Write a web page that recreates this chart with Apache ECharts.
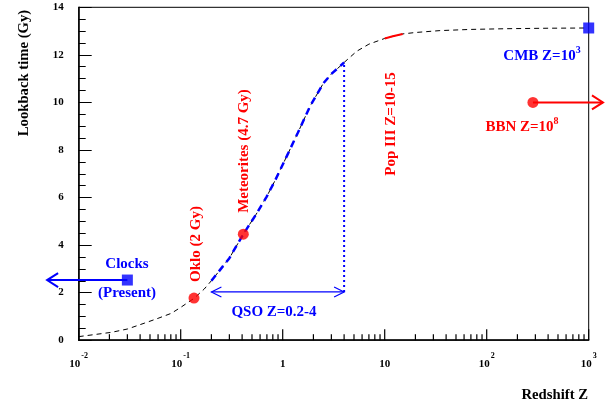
<!DOCTYPE html>
<html><head><meta charset="utf-8">
<script src="https://cdn.jsdelivr.net/npm/echarts@6/dist/echarts.min.js"></script>
<style>html,body{margin:0;padding:0;background:#fff}#c{width:611px;height:408px}</style>
</head><body><div id="c"></div>
<script>
// ---- data ----
const curveZ = [0.01,0.0209,0.03,0.0443,0.06,0.0809,0.1,0.135,0.17,0.2,0.3,0.411,0.55,0.697,0.85,1.094,1.4,1.85,2.5,3.0,3.65,4,5.31,7,10,12,15,20,34.8,70,157,400,1000];
const curveT = [0.15,0.33,0.47,0.72,0.92,1.13,1.38,1.76,2.15,2.50,3.45,4.46,5.3,6.04,6.75,7.73,8.7,9.83,10.8,11.2,11.52,11.68,12.15,12.45,12.69,12.78,12.88,12.94,13.02,13.07,13.1,13.12,13.13];
const qsoRange = [0.2, 4];
const qsoLevel = 2.03;
const popIIIRange = [10, 15];
const okloPt = [0.135, 1.77];
const meteoritesPt = [0.411, 4.46];
const clocksPt = [0.03, 2.53];
const clocksArrowEndZ = 0.0049;
const cmbPt = [1000, 13.13];
const bbnPt = [284, 10.0];
const bbnArrowEndZ = 1380;
const xDecades = [-2,-1,0,1,2,3];
const minorMultipliers = [2,3,4,5,6,7,8,9];

const RED = '#ff0000', BLUE = '#0000ff';
const FONT = 'Liberation Serif';

const curve = curveZ.map((z,i)=>[z,curveT[i]]);
const qsoCurve = curve.filter(p=>p[0]>=qsoRange[0] && p[0]<=qsoRange[1]);
const popCurve = curve.filter(p=>p[0]>=popIIIRange[0] && p[0]<=popIIIRange[1]);
const qsoTopT = curveT[curveZ.indexOf(qsoRange[1])];
// tick list: [z, length]
const xTickData = [];
xDecades.forEach((e,i)=>{
  xTickData.push([Math.pow(10,e), 11]);
  if (i < xDecades.length-1) minorMultipliers.forEach(m=>xTickData.push([m*Math.pow(10,e), 6]));
});

const chart = echarts.init(document.getElementById('c'), null, {renderer:'canvas'});
const option = {
  animation:false,
  backgroundColor:'#fff',
  grid:{left:78.7, right:22.3, top:7.3, bottom:67.8, show:true, borderColor:'#000', borderWidth:1, backgroundColor:'transparent'},
  xAxis:{type:'log', logBase:10, min:0.01, max:1000,
    axisLine:{show:true, onZero:false, lineStyle:{color:'#000', width:1.5}},
    axisTick:{show:false},
    minorTick:{show:false}, splitLine:{show:false},
    axisLabel:{margin:12, color:'#000', showMinLabel:true, showMaxLabel:true,
      formatter:v=>{const e=Math.round(Math.log10(v)); if(e===0) return '{b|1}'; if(e===1) return '{b|10}'; return '{b|10}{e|'+e+'}';},
      rich:{b:{fontFamily:FONT, fontWeight:'bold', fontSize:11, lineHeight:24, color:'#000'},
            e:{fontFamily:FONT, fontWeight:'bold', fontSize:8, lineHeight:8, verticalAlign:'top', color:'#000', padding:[0,0,0,1]}}}
  },
  yAxis:{type:'value', min:0, max:14, interval:2,
    axisLine:{show:true, lineStyle:{color:'#000', width:1.5}},
    axisTick:{show:true, inside:true, length:13, lineStyle:{color:'#000', width:1}},
    minorTick:{show:true, splitNumber:4, length:7, lineStyle:{color:'#000', width:1}},
    splitLine:{show:false},
    axisLabel:{margin:15, color:'#000', fontFamily:FONT, fontWeight:'bold', fontSize:11}
  },
  series:[
    {type:'custom', data:xTickData, clip:false,
      renderItem:(params, api)=>{
        const p = api.coord([api.value(0), 0]);
        return {type:'line', shape:{x1:p[0], y1:p[1], x2:p[0], y2:p[1]-api.value(1)}, style:{stroke:'#000', lineWidth:1.2}};
      }},
    {type:'line', data:curve, showSymbol:false, lineStyle:{color:'#000', width:1, type:[5,4]}, silent:true, z:2},
    {type:'line', data:qsoCurve, showSymbol:false, lineStyle:{color:BLUE, width:2.5, type:[7,5]}, silent:true, z:3},
    {type:'line', data:popCurve, showSymbol:false, lineStyle:{color:RED, width:2}, silent:true, z:3},
    {type:'line', data:[[qsoRange[1],qsoLevel],[qsoRange[1],qsoTopT]], showSymbol:false, lineStyle:{color:BLUE, width:2, type:[2,3]}, silent:true, z:3},
    {type:'line', data:[[qsoRange[0],qsoLevel],[qsoRange[1],qsoLevel]], showSymbol:false, lineStyle:{color:BLUE, width:1.2}, silent:true, z:3},
    {type:'scatter', data:[okloPt, meteoritesPt, bbnPt], symbol:'circle', symbolSize:11, itemStyle:{color:RED}, silent:true, z:5},
    {type:'scatter', data:[clocksPt, cmbPt], symbol:'rect', symbolSize:11, clip:false, itemStyle:{color:BLUE}, silent:true, z:5}
  ]
};
chart.setOption(option);

function px(p){ return chart.convertToPixel({xAxisIndex:0,yAxisIndex:0}, p); }
function seg(id, a, b, color, w){
  return {id, type:'line', z:4, shape:{x1:a[0],y1:a[1],x2:b[0],y2:b[1]}, style:{stroke:color, lineWidth:w}, silent:true};
}
function chevron(id, tip, dir, L, H, color, w){
  return {id, type:'polyline', z:10, shape:{points:[[tip[0]-dir*L,tip[1]-H],[tip[0],tip[1]],[tip[0]-dir*L,tip[1]+H]]}, style:{stroke:color, fill:'none', lineWidth:w}};
}
function txt(id, x, y, text, color, size, rot, align){
  return {id, type:'text', x, y, rotation:rot||0, z:10, style:{text, fill:color, font:'bold '+size+'px "'+FONT+'"', align:align||'center', verticalAlign:'middle'}};
}
function supTxt(id, x, y, base, sup, color, size){
  return {id, type:'text', x, y, z:10, style:{text:'{a|'+base+'}{s|'+sup+'}', align:'center', verticalAlign:'middle',
    rich:{a:{fill:color, fontFamily:FONT, fontWeight:'bold', fontSize:size, lineHeight:size+6},
          s:{fill:color, fontFamily:FONT, fontWeight:'bold', fontSize:Math.round(size*0.65), verticalAlign:'top', lineHeight:10}}}};
}
const g = [];
const cA = px(clocksPt), cT = px([clocksArrowEndZ, clocksPt[1]]);
g.push(seg('sc', cA, cT, BLUE, 2));
g.push(chevron('hc', cT, -1, 11, 7, BLUE, 2));
const bA = px(bbnPt), bT = px([bbnArrowEndZ, bbnPt[1]]);
g.push(seg('sb', bA, bT, RED, 2));
g.push(chevron('hb', bT, 1, 11, 7, RED, 2));
g.push(chevron('hq1', px([qsoRange[0], qsoLevel]), -1, 10, 5, BLUE, 1.2));
g.push(chevron('hq2', px([qsoRange[1], qsoLevel]), 1, 10, 5, BLUE, 1.2));
const R = Math.PI/2;
g.push(txt('ty', 24, 73, 'Lookback time (Gy)', '#000', 14.7, R));
g.push(txt('tx', 588, 395, 'Redshift Z', '#000', 14.7, 0, 'right'));
g.push(txt('t1', 127, 264, 'Clocks', BLUE, 15));
g.push(txt('t2', 127, 293, '(Present)', BLUE, 15));
g.push(txt('t3', 196, 244, 'Oklo (2 Gy)', RED, 15, R));
g.push(txt('t4', 244, 151, 'Meteorites (4.7 Gy)', RED, 15, R));
g.push(txt('t5', 391, 124, 'Pop III Z=10-15', RED, 15, R));
g.push(txt('t6', 274, 312, 'QSO Z=0.2-4', BLUE, 15));
g.push(supTxt('t7', 542, 56, 'CMB Z=10', '3', BLUE, 15));
g.push(supTxt('t8', 522, 127, 'BBN Z=10', '8', RED, 15));
chart.setOption({graphic:g});
</script></body></html>
